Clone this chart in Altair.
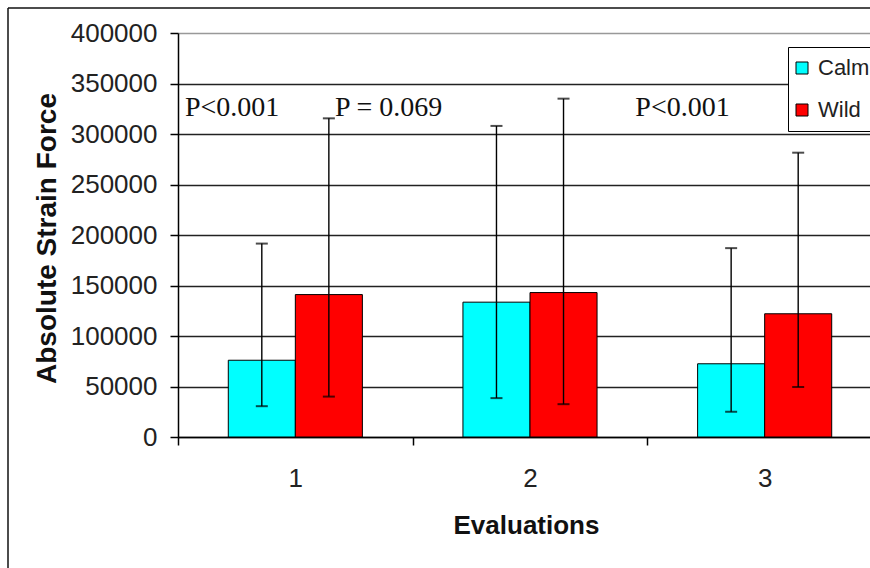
import altair as alt
import pandas as pd

categories = ["1", "2", "3"]
groups = ["Calm", "Wild"]
calm_mean = [76000, 133500, 72500]
wild_mean = [141000, 143000, 122000]
calm_low = [30500, 38500, 25000]
calm_high = [191500, 308000, 187000]
wild_low = [40000, 32500, 49500]
wild_high = [315500, 335000, 281500]
p_labels = ["P<0.001", "P = 0.069", "P<0.001"]
p_cats = ["1", "1", "3"]
p_y = [326000, 326000, 326000]
y_ticks = [0, 50000, 100000, 150000, 200000, 250000, 300000, 350000, 400000]

rows = []
for i, c in enumerate(categories):
    rows.append({"Evaluation": c, "Group": "Calm", "mean": calm_mean[i],
                 "low": calm_low[i], "high": calm_high[i]})
    rows.append({"Evaluation": c, "Group": "Wild", "mean": wild_mean[i],
                 "low": wild_low[i], "high": wild_high[i]})
df = pd.DataFrame(rows)

W, H = 692, 404
TICKFONT = "Liberation Sans, Arial, sans-serif"

x_scale = alt.Scale(domain=categories, range=[0, 704], paddingInner=0, paddingOuter=0)
off_scale = alt.Scale(domain=groups, paddingInner=0, paddingOuter=0.75)
y_scale = alt.Scale(domain=[0, 400000], nice=False)

x_axis = alt.Axis(
    title="Evaluations", labelAngle=0, tickBand="extent", tickSize=8,
    tickColor="black", tickWidth=1.5, domainColor="black", domainWidth=1.5,
    labelFont=TICKFONT, labelFontSize=26, labelColor="#222",
    labelPadding=33, labelBaseline="middle", grid=False,
    titleFont="Liberation Sans", titleFontSize=26, titleFontWeight="bold",
    titleColor="#111", titleX=348, titleY=88, titleBaseline="middle",
)
y_axis = alt.Axis(
    title="Absolute Strain Force", values=y_ticks, format="d", tickSize=8,
    tickColor="black", tickWidth=1.5, domainColor="black", domainWidth=1.5,
    labelFont=TICKFONT, labelFontSize=26, labelColor="#222", labelPadding=13,
    grid=True, gridWidth=1.5,
    gridColor={"condition": {"test": "datum.value === 400000", "value": "#999999"},
               "value": "#222222"},
    titleFont="Liberation Sans", titleFontSize=28, titleFontWeight="bold",
    titleColor="#111", titleX=-131, titleY=205, titleAngle=-90,
    titleAlign="center", titleBaseline="middle",
)

base = alt.Chart(df)
X = alt.X("Evaluation:N", scale=x_scale, axis=x_axis, sort=categories)
XO = alt.XOffset("Group:N", scale=off_scale, sort=groups)

bars = base.mark_bar(stroke="black", strokeWidth=1, opacity=1).encode(
    x=X, xOffset=XO,
    y=alt.Y("mean:Q", scale=y_scale, axis=y_axis),
    color=alt.Color("Group:N", scale=alt.Scale(domain=groups, range=["#00FFFF", "#FF0000"]),
                    legend=alt.Legend(
                        title=None, orient="none", legendX=610, legendY=14,
                        strokeColor="black", fillColor="white", padding=10,
                        symbolType="square", symbolSize=144, symbolStrokeColor="black",
                        symbolStrokeWidth=1, symbolOpacity=1, symbolOffset=-7,
                        labelFont=TICKFONT, labelFontSize=22, labelColor="#222",
                        rowPadding=20, labelOffset=5)),
)
err = base.mark_rule(color="black", strokeWidth=1.4).encode(
    x=X, xOffset=XO, y=alt.Y("low:Q", scale=y_scale), y2="high:Q")
cap_low = base.mark_tick(color="black", thickness=2, size=12, orient="horizontal").encode(
    x=X, xOffset=XO, y=alt.Y("low:Q", scale=y_scale))
cap_high = base.mark_tick(color="black", thickness=2, size=12, orient="horizontal").encode(
    x=X, xOffset=XO, y=alt.Y("high:Q", scale=y_scale))

ann_df = pd.DataFrame({"Evaluation": p_cats, "label": p_labels, "val": p_y})
ann_dx = [7, 157, -12]
ann_layers = []
for i in range(len(p_labels)):
    ann_layers.append(
        alt.Chart(ann_df.iloc[[i]]).mark_text(
            font="Liberation Serif, Times New Roman, serif", fontSize=28,
            align="left", baseline="middle", dx=ann_dx[i], color="#111",
        ).encode(
            x=alt.X("Evaluation:N", scale=x_scale, bandPosition=0),
            y=alt.Y("val:Q", scale=y_scale),
            text="label:N",
        )
    )

one = pd.DataFrame({"a": [0]})
frame_left = alt.Chart(one).mark_rule(color="#111", strokeWidth=1.5).encode(
    x=alt.value(-170), y=alt.value(-25), y2=alt.value(H + 200))
frame_top = alt.Chart(one).mark_rule(color="#111", strokeWidth=1.5).encode(
    x=alt.value(-170), x2=alt.value(W + 20), y=alt.value(-25))

chart = alt.layer(bars, err, cap_low, cap_high, *ann_layers, frame_left, frame_top).properties(
    width=W, height=H,
    autosize=alt.AutoSizeParams(type="none"),
    padding={"left": 178, "top": 33, "right": 0, "bottom": 131},
    background="white",
).configure_view(stroke=None)

chart.save("out.html", embed_options={"renderer": "svg", "actions": False})
